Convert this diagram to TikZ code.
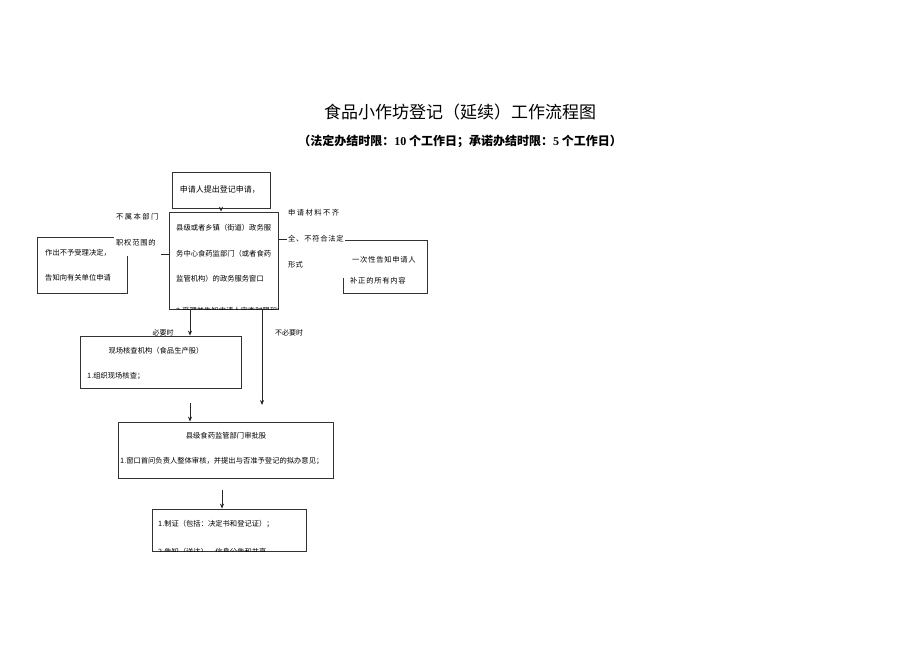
\documentclass[tikz,border=0pt]{standalone}
\usepackage{fontspec}
\setmainfont{Liberation Serif}
\newfontfamily\cjk{Noto Sans CJK SC}
\newfontfamily\cjkwide[LetterSpace=20]{Noto Sans CJK SC}
\newfontfamily\cjkloose[LetterSpace=10]{Noto Sans CJK SC}
\usetikzlibrary{positioning}
\usetikzlibrary{calc}
\usetikzlibrary{arrows.meta}
\tikzset{
    % Small solid heads, as in the scanned form
    >={Stealth[length=5pt,width=4pt]},
%
    % A framed step of the procedure, sized by hand
    flow box/.style={draw=black!80, line width=0.8pt, fill=white, inner sep=0},
%
    % One line of text set inside a box
    box text/.style={font=\cjk\fontsize{7.3}{9}\selectfont, inner sep=0, anchor=west},
%
    % Branch conditions, knocked out over the lines they sit on
    branch label/.style={font=\cjk\fontsize{7.3}{26}\selectfont, align=left,
        fill=white, inner xsep=2pt, inner ysep=10pt, anchor=north west},
%
    % A plain vertical step arrow
    flow arrow/.style={->, line width=0.8pt, draw=black!85}}

\begin{document}
\begin{tikzpicture}[x=1pt, y=-1pt]

\fill[white] (0,0) rectangle (920,651);
\useasboundingbox (0,0) rectangle (920,651);

% Heading
\node (title) at (460,112) {\cjk\fontsize{17}{20}\selectfont 食品小作坊登记（延续）工作流程图};
\node (limits) at (460,141)
    {\cjk\bfseries\fontsize{12}{14}\selectfont （法定办结时限：{\rmfamily\bfseries 10} 个工作日；承诺办结时限：{\rmfamily\bfseries 5} 个工作日）};

% Boxes down the main line
\node [flow box, minimum width=98pt, minimum height=36pt] (apply) at (221,190) {};
\node [box text, font=\cjk\fontsize{8}{9}\selectfont] at ($(apply.west)+(8,0)$) {申请人提出登记申请，};

\node [flow box, minimum width=109pt, minimum height=97pt] (window) at (223.5,260.5) {};

\node [flow box, minimum width=161pt, minimum height=52pt] (inspect) at (160.5,362) {};
\node [box text, anchor=center] at (156,351) {现场核查机构（食品生产股）};
\node [box text] at (87,376) {1.组织现场核查；};

\node [flow box, minimum width=215pt, minimum height=56pt] (approve) at (225.5,450) {};
\node [box text, anchor=center] at (226,436) {县级食药监管部门审批股};
\node [box text] at (120,461) {1.窗口首问负责人整体审核，并提出与否准予登记的拟办意见；};

\node [flow box, minimum width=154pt, minimum height=42pt] (issue) at (229,530) {};
\node [box text] at (158,524) {1.制证（包括：决定书和登记证）；};

% Side boxes
\node [flow box, minimum width=90pt, minimum height=56pt] (reject) at (82,265) {};
\node [box text] at (45,253) {作出不予受理决定，};
\node [box text] at (45,278) {告知向有关单位申请};

\node [flow box, minimum width=84pt, minimum height=53pt] (amend) at (385,266.5) {};

% Lines in the window box and the last box run past their frames
\begin{scope}
    \clip (window.south west) rectangle (window.north east);
    \node [box text] at (176,228) {县级或者乡镇（街道）政务服};
    \node [box text] at (176,254) {务中心食药监部门（或者食药};
    \node [box text] at (176,279) {监管机构）的政务服务窗口};
    \node [box text] at (176,311) {2.受理并告知申请人审查时限和方式};
\end{scope}
\begin{scope}
    \clip (issue.south west) rectangle (issue.north east);
    \node [box text] at (158,552) {2.告知（送达）、信息公告和共享};
\end{scope}

% Side branches
\draw[line width=0.8pt, draw=black!85]
    ([yshift=6pt]window.west) -- ([yshift=6pt]window.west -| reject.east);
\draw[line width=0.8pt, draw=black!85]
    (window.east |- amend.north) -- (amend.north west);

\node [branch label] (outside) at (114,203)
    {{\cjkwide 不属本部门}\\{\cjkloose 职权范围的}};

\node [box text, fill=white, inner xsep=3pt, minimum height=33pt, font=\cjk\fontsize{7.3}{9}\selectfont]
    (notice) at (340,259.5) {\hspace{9pt}{\cjkloose 一次性告知申请人}};
\node [box text] at (350,281) {\cjkloose 补正的所有内容};

\node [branch label, inner xsep=1pt] (incomplete) at (287,199)
    {{\cjkwide 申请材料不齐}\\{\cjkloose 全、不符合法定}\\形式};

% Steps down the main line
\draw[flow arrow] (apply.south) -- (apply.south |- window.north);
\draw[flow arrow] ([xshift=-33.5pt]window.south) -- ([xshift=-33.5pt]window.south |- inspect.north);
\coordinate (skip) at (262,405);
\draw[flow arrow] ([xshift=38.5pt]window.south) -- (skip);
\node [box text, anchor=center, font=\cjk\fontsize{7}{9}\selectfont] at (163,333) {必要时};
\node [box text, anchor=center, font=\cjk\fontsize{7}{9}\selectfont] at (289,333) {不必要时};

\coordinate (resume) at (190,403);
\draw[flow arrow] (resume) -- (resume |- approve.north);
\coordinate (handout) at (222,490);
\draw[flow arrow] (handout) -- (handout |- issue.north);

\end{tikzpicture}
\end{document}
